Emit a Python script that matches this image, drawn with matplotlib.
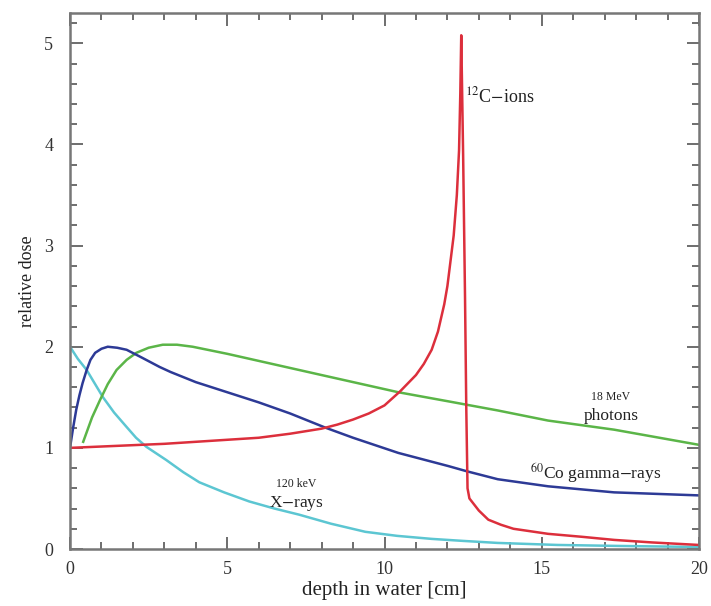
## Depth-dose curves in water for several radiation types
import numpy as np
import matplotlib.pyplot as plt
from matplotlib.ticker import MultipleLocator

plt.rcParams['font.family'] = ['Liberation Serif', 'DejaVu Serif']
plt.rcParams['mathtext.fontset'] = 'stix'

# 12C ions (Bragg peak)
carbon_x = [0, 3, 6, 7, 8, 8.5, 9, 9.5, 10, 10.5, 11, 11.25, 11.5, 11.7, 11.9, 12.0, 12.1, 12.2,
            12.3, 12.37, 12.41, 12.44, 12.5, 12.56, 12.6, 12.64, 12.7, 12.85, 13.0, 13.3, 13.7,
            14.1, 15.2, 16.3, 17.3, 18.5, 20]
carbon_y = [1.0, 1.04, 1.1, 1.14, 1.19, 1.23, 1.28, 1.34, 1.42, 1.56, 1.72, 1.83, 1.97, 2.15, 2.42,
            2.6, 2.85, 3.1, 3.5, 3.94, 4.5, 5.08, 3.9, 2.5, 1.4, 0.6, 0.5, 0.44, 0.38, 0.29, 0.24,
            0.2, 0.15, 0.12, 0.09, 0.065, 0.04]

# 60Co gamma rays
cobalt_x = [0, 0.1, 0.2, 0.3, 0.4, 0.53, 0.65, 0.8, 1.0, 1.2, 1.5, 1.8, 2.3, 2.85, 3.2, 4.0, 5, 6,
            7, 8.12, 9, 10.44, 12.03, 12.6, 13.6, 15.2, 17.3, 20]
cobalt_y = [1.0, 1.2, 1.38, 1.52, 1.64, 1.77, 1.87, 1.94, 1.98, 2.0, 1.99, 1.97, 1.89, 1.80, 1.75,
            1.65, 1.55, 1.45, 1.34, 1.2, 1.1, 0.95, 0.82, 0.77, 0.69, 0.62, 0.56, 0.53]

# 18 MeV photons
photon_x = [0.42, 0.7, 0.95, 1.2, 1.48, 1.8, 2.11, 2.5, 2.95, 3.4, 3.9, 5, 6.0, 8, 10.44,
            12.03, 13.6, 15.2, 17.3, 20]
photon_y = [1.06, 1.3, 1.47, 1.63, 1.77, 1.87, 1.94, 1.99, 2.02, 2.02, 2.0, 1.93, 1.86, 1.72, 1.55,
            1.46, 1.37, 1.27, 1.18, 1.03]

# 120 keV X-rays
xray_x = [0, 0.25, 0.53, 1.05, 1.4, 1.79, 2.1, 2.43, 3.06, 3.6, 4.11, 4.9, 5.7, 6.5, 7.28, 8.3,
          9.39, 10.4, 11.5, 12.5, 13.6, 15.5, 17.5, 20]
xray_y = [2.0, 1.88, 1.77, 1.5, 1.35, 1.21, 1.1, 1.01, 0.88, 0.76, 0.66, 0.56, 0.47, 0.4, 0.34,
          0.25, 0.17, 0.13, 0.1, 0.08, 0.06, 0.04, 0.03, 0.02]

fig = plt.figure(figsize=(7.11, 6.06), dpi=100)
ax = fig.add_axes([70/711, 57/606, 629/711, 536/606])

ax.plot(xray_x, xray_y, color='#5cc6d2', lw=1.8)
ax.plot(photon_x, photon_y, color='#5bb548', lw=1.8)
ax.plot(cobalt_x, cobalt_y, color='#2d3a96', lw=1.8)
ax.plot(carbon_x, carbon_y, color='#dc2f3c', lw=1.8)

ax.set_xlim(0, 20)
ax.set_ylim(0, 5.3)
ax.xaxis.set_major_locator(MultipleLocator(5))
ax.xaxis.set_minor_locator(MultipleLocator(1))
ax.yaxis.set_major_locator(MultipleLocator(1))
ax.yaxis.set_minor_locator(MultipleLocator(0.2))
ax.tick_params(which='both', direction='in', top=True, right=True, color='#555555', width=1.2)
ax.tick_params(which='major', length=9)
ax.tick_params(which='minor', length=5)
ax.tick_params(axis='x', labelsize=13, pad=9, labelcolor='#333333')
ax.tick_params(axis='y', labelsize=13, pad=12, labelcolor='#333333')
for s in ax.spines.values():
    s.set_color('#777777')
    s.set_linewidth(1.8)

ax.set_xlabel('depth in water [cm]', fontsize=15, color='#222222', labelpad=2)
ax.set_ylabel('relative dose', fontsize=13, color='#222222', labelpad=6)

# curve labels
ax.text(12.56, 4.42, r'$^{12}$C$-$ions', fontsize=13, color='#222222')
ax.text(17.2, 1.47, '18 MeV', fontsize=8.5, ha='center', color='#222222')
ax.text(17.2, 1.28, 'photons', fontsize=12.5, ha='center', color='#222222')
ax.text(16.7, 0.69, r'$^{60}$Co gamma$-$rays', fontsize=12.5, ha='center', color='#222222')
ax.text(7.2, 0.61, '120 keV', fontsize=8.5, ha='center', color='#222222')
ax.text(7.2, 0.42, 'X$-$rays', fontsize=12.5, ha='center', color='#222222')

fig.savefig('out.png', dpi=100)
